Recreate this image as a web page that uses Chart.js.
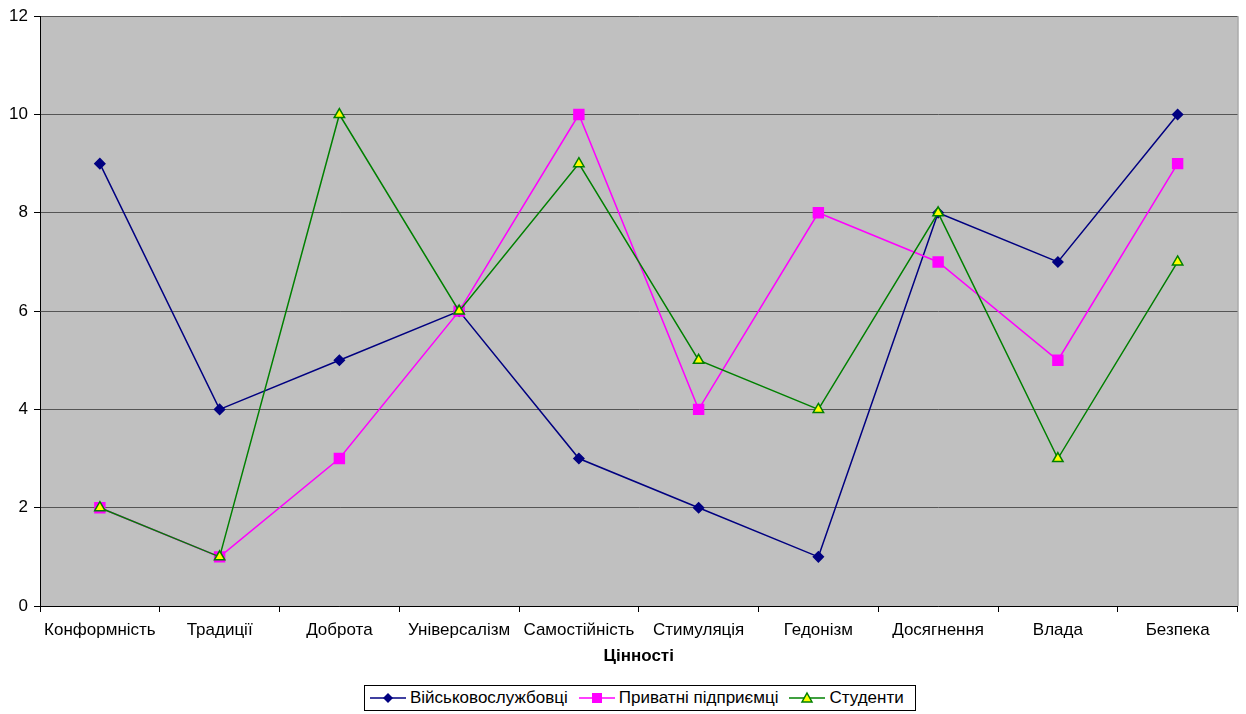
<!DOCTYPE html>
<html>
<head>
<meta charset="utf-8">
<script src="https://cdn.jsdelivr.net/npm/chart.js@4.4.0/dist/chart.umd.min.js"></script>
<style>
  body { margin: 0; background: #fff; font-family: "Liberation Sans", Arial, sans-serif; }
  #wrap { position: relative; width: 1246px; height: 714px; }
  #legend {
    position: absolute; left: 364px; top: 685px; height: 26px;
    border: 1px solid #000; background: #fff; box-sizing: border-box;
    display: flex; align-items: center; padding: 0 11px 0 5px; font-size: 17px; color: #000;
  }
  #legend .item { display: flex; align-items: center; margin-right: 11px; }
  #legend .item:last-child { margin-right: 0; }
  #legend svg { margin-right: 4px; }
</style>
</head>
<body>
<div id="wrap">
  <canvas id="lineChart" width="1246" height="714"></canvas>
  <div id="legend"></div>
</div>
<script>
const categories = ["Конформність", "Традиції", "Доброта", "Універсалізм", "Самостійність",
                    "Стимуляція", "Гедонізм", "Досягнення", "Влада", "Безпека"];
const military = [9, 4, 5, 6, 3, 2, 1, 8, 7, 10];
const business = [2, 1, 3, 6, 10, 4, 8, 7, 5, 9];
const students = [2, 1, 10, 6, 9, 5, 4, 8, 3, 7];
const seriesNames = ["Військовослужбовці", "Приватні підприємці", "Студенти"];
const yTicks = [0, 2, 4, 6, 8, 10, 12];

const font = { family: "'Liberation Sans', Arial, sans-serif", size: 17 };

// grey plot area like the old excel chart
const plotBg = {
  id: "plotBg",
  beforeDraw(chart) {
    const a = chart.chartArea, ctx = chart.ctx;
    ctx.save();
    ctx.fillStyle = "#c0c0c0";
    ctx.fillRect(a.left, a.top, a.right - a.left, a.bottom - a.top);
    ctx.strokeStyle = "#808080";
    ctx.lineWidth = 1;
    ctx.beginPath();
    ctx.moveTo(a.right + 0.5, a.top);
    ctx.lineTo(a.right + 0.5, a.bottom);
    ctx.stroke();
    ctx.restore();
  }
};

// later series on top, as in excel
const datasets = [
  { label: seriesNames[0], data: military, borderColor: "#000080", backgroundColor: "#000080",
    pointStyle: "rectRot", pointRadius: 5, pointHoverRadius: 5, order: 3 },
  { label: seriesNames[1], data: business, borderColor: "#ff00ff", backgroundColor: "#ff00ff",
    pointStyle: "rect", pointRadius: 7, pointHoverRadius: 7, order: 2 },
  { label: seriesNames[2], data: students, borderColor: "#008000", backgroundColor: "#ffff00",
    pointStyle: "triangle", pointRadius: 6, pointHoverRadius: 6, pointBorderWidth: 1.5, order: 1 }
];
datasets.forEach(d => { d.borderWidth = 1.5; d.tension = 0; d.fill = false; });

var chart = new Chart("lineChart", {
  type: "line",
  data: { labels: categories, datasets: datasets },
  options: {
    responsive: false,
    animation: false,
    layout: { padding: { top: 14, right: 7, bottom: 44, left: 0 } },
    plugins: { legend: { display: false }, tooltip: { enabled: false } },
    scales: {
      x: {
        offset: true,
        grid: { offset: true, drawOnChartArea: false, drawTicks: true, tickLength: 6, color: "#000" },
        border: { color: "#000", width: 1 },
        ticks: { color: "#000", font: font, padding: 8, maxRotation: 0, autoSkip: false },
        title: { display: true, text: "Цінності", color: "#000",
                 font: { family: font.family, size: 17, weight: "bold" }, padding: { top: 4, bottom: 3 } },
        afterFit(s) { s.height = 64; }
      },
      y: {
        min: 0, max: 12,
        afterBuildTicks(s) { s.ticks = yTicks.map(v => ({ value: v })); },
        grid: { color: "#555", tickLength: 6, tickColor: "#000" },
        border: { color: "#000", width: 1 },
        ticks: { color: "#000", font: font, padding: 6 },
        afterFit(s) { s.width = 40; }
      }
    }
  },
  plugins: [plotBg]
});

// legend with line + marker icons
function icon(d) {
  let m = "";
  if (d.pointStyle === "rectRot") m = '<polygon points="18,2 23,7 18,12 13,7" fill="' + d.backgroundColor + '"/>';
  else if (d.pointStyle === "rect") m = '<rect x="13" y="2" width="10" height="10" fill="' + d.backgroundColor + '"/>';
  else m = '<polygon points="18,2 23,11 13,11" fill="' + d.backgroundColor + '" stroke="' + d.borderColor + '" stroke-width="1.5"/>';
  return '<svg width="36" height="14"><line x1="0" y1="7" x2="36" y2="7" stroke="' + d.borderColor + '" stroke-width="1.5"/>' + m + '</svg>';
}
document.getElementById("legend").innerHTML = datasets.map(d =>
  '<span class="item">' + icon(d) + '<span>' + d.label + '</span></span>').join("");
</script>
</body>
</html>
